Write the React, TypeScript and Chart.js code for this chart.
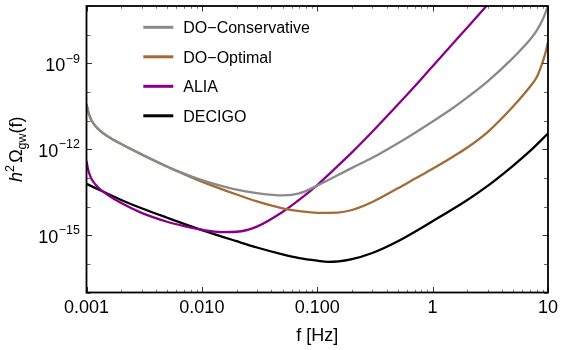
import React, { useEffect, useRef } from "react";
import { Chart, registerables } from "chart.js";

Chart.register(...registerables);

const FONT = "'Liberation Sans', Arial, Helvetica, sans-serif";

// ---------- data (log10 of h^2 Omega_gw) ----------
const seriesLabels = ["DO\u2212Conservative", "DO\u2212Optimal", "ALIA", "DECIGO"];
const seriesColors = ["#8a8a8a", "#a36b36", "#880088", "#000000"];

const freqDO = [0.001, 0.00103, 0.00106, 0.0011, 0.0012, 0.0013, 0.0015, 0.002, 0.003, 0.005, 0.007, 0.01, 0.015, 0.02, 0.03, 0.05, 0.07, 0.1, 0.15, 0.2, 0.3, 0.5, 0.7, 1, 1.5, 2, 3, 5, 7, 8, 9, 9.5, 10];
const logDOConservative = [-10.42, -10.66, -10.82, -10.98, -11.2, -11.34, -11.53, -11.82, -12.18, -12.6, -12.85, -13.08, -13.29, -13.41, -13.53, -13.61, -13.54, -13.27, -12.91, -12.65, -12.3, -11.79, -11.43, -11.03, -10.56, -10.19, -9.63, -8.8, -8.17, -7.85, -7.47, -7.24, -6.98];
const logDOOptimal = [-10.42, -10.66, -10.82, -10.98, -11.2, -11.34, -11.53, -11.82, -12.18, -12.61, -12.87, -13.13, -13.4, -13.58, -13.82, -14.06, -14.16, -14.22, -14.21, -14.12, -13.84, -13.36, -13.03, -12.68, -12.26, -11.94, -11.4, -10.5, -9.81, -9.48, -8.95, -8.64, -8.26];

const freqALIA = [0.001, 0.00103, 0.00106, 0.0011, 0.0012, 0.0013, 0.0015, 0.002, 0.003, 0.005, 0.007, 0.01, 0.015, 0.02, 0.03, 0.05, 0.07, 0.1, 0.15, 0.2, 0.3, 0.5, 0.7, 1, 1.5, 2, 3];
const logALIA = [-12.41, -12.69, -12.86, -13.02, -13.24, -13.38, -13.57, -13.88, -14.22, -14.53, -14.68, -14.81, -14.89, -14.88, -14.7, -14.19, -13.76, -13.25, -12.59, -12.11, -11.39, -10.44, -9.8, -9.1, -8.31, -7.75, -6.95];

const freqDECIGO = [0.001, 0.002, 0.003, 0.005, 0.01, 0.02, 0.03, 0.05, 0.07, 0.1, 0.124, 0.196, 0.3, 0.5, 1, 2, 3, 5, 7, 10];
const logDECIGO = [-13.21, -13.77, -14.06, -14.39, -14.82, -15.21, -15.43, -15.67, -15.8, -15.89, -15.93, -15.84, -15.62, -15.21, -14.51, -13.77, -13.28, -12.57, -12.06, -11.45];

const xTickValues = [0.001, 0.01, 0.1, 1, 10];
const xTickLabels = ["0.001", "0.010", "0.100", "1", "10"];
const yTickExponents = [-15, -12, -9];
const X_MIN = 0.001;
const X_MAX = 10;
const Y_MIN_EXP = -17;
const Y_MAX_EXP = -7;

const decorPlugin = {
  id: "decor",
  afterDatasetsDraw(chart: any) {
    const { ctx, chartArea: a, scales } = chart;
    const xs = scales.x;
    const ys = scales.y;
    ctx.save();

    // inward tick marks
    ctx.lineWidth = 1;
    for (let d = -3; d <= 1; d++) {
      for (let m = 1; m <= 9; m++) {
        const v = m * Math.pow(10, d);
        if (v > X_MAX * 1.0001) break;
        const x = Math.round(xs.getPixelForValue(v)) + 0.5;
        const len = m === 1 ? 5.5 : 2.8;
        ctx.strokeStyle = m === 1 ? "#333" : "#777";
        ctx.beginPath();
        ctx.moveTo(x, a.bottom);
        ctx.lineTo(x, a.bottom - len);
        ctx.moveTo(x, a.top);
        ctx.lineTo(x, a.top + len);
        ctx.stroke();
      }
    }
    for (let e = Y_MIN_EXP; e <= Y_MAX_EXP; e++) {
      const y = Math.round(ys.getPixelForValue(Math.pow(10, e))) + 0.5;
      const labeled = yTickExponents.indexOf(e) >= 0;
      const len = labeled ? 5.5 : 4;
      ctx.strokeStyle = labeled ? "#333" : "#666";
      ctx.beginPath();
      ctx.moveTo(a.left, y);
      ctx.lineTo(a.left + len, y);
      ctx.moveTo(a.right, y);
      ctx.lineTo(a.right - len, y);
      ctx.stroke();
    }

    // frame
    ctx.strokeStyle = "#000";
    ctx.lineWidth = 1.8;
    ctx.strokeRect(a.left, a.top, a.right - a.left, a.bottom - a.top);

    // y tick labels 10^n
    ctx.fillStyle = "#000";
    ctx.textBaseline = "alphabetic";
    ctx.textAlign = "left";
    for (const e of yTickExponents) {
      const y = ys.getPixelForValue(Math.pow(10, e));
      const expText = "\u2212" + Math.abs(e);
      ctx.font = `18px ${FONT}`;
      const w10 = ctx.measureText("10").width;
      ctx.font = `12.5px ${FONT}`;
      const we = ctx.measureText(expText).width;
      const right = 80;
      const ex = right - we;
      const bx = ex - 0.5 - w10;
      ctx.font = `18px ${FONT}`;
      ctx.fillText("10", bx, y + 7.4);
      ctx.font = `12.5px ${FONT}`;
      ctx.fillText(expText, ex, y - 0.8);
    }

    // y axis title: h^2 Omega_gw(f)
    const parts = [
      { t: "h", f: `italic 18px ${FONT}`, dy: 0 },
      { t: "2", f: `12.5px ${FONT}`, dy: -7.5 },
      { t: " ", f: `8px ${FONT}`, dy: 0 },
      { t: "\u03A9", f: `18px ${FONT}`, dy: 0 },
      { t: "gw", f: `12.5px ${FONT}`, dy: 4.5 },
      { t: "(f)", f: `18px ${FONT}`, dy: 0 },
    ];
    let total = 0;
    const widths: number[] = [];
    for (const p of parts) {
      ctx.font = p.f;
      const w = ctx.measureText(p.t).width;
      widths.push(w);
      total += w;
    }
    ctx.save();
    ctx.translate(21.7, (a.top + a.bottom) / 2);
    ctx.rotate(-Math.PI / 2);
    let cx = -total / 2;
    parts.forEach((p, i) => {
      ctx.font = p.f;
      ctx.fillText(p.t, cx, p.dy);
      cx += widths[i];
    });
    ctx.restore();

    // legend
    const ds = chart.data.datasets;
    for (let i = 0; i < ds.length; i++) {
      const ry = 27.3 + 29.5 * i;
      ctx.strokeStyle = ds[i].borderColor;
      ctx.lineWidth = 3;
      ctx.beginPath();
      ctx.moveTo(143.3, ry);
      ctx.lineTo(173.3, ry);
      ctx.stroke();
      ctx.font = `16px ${FONT}`;
      ctx.fillStyle = "#000";
      ctx.fillText(ds[i].label, 183.3, ry + 5.7);
    }

    ctx.restore();
  },
};

export default function App() {
  const ref = useRef<HTMLCanvasElement>(null);

  useEffect(() => {
    const canvas = ref.current;
    if (!canvas) return;
    const mk = (f: number[], l: number[]) => f.map((x, i) => ({ x, y: Math.pow(10, l[i]) }));
    const sources = [
      [freqDO, logDOConservative],
      [freqDO, logDOOptimal],
      [freqALIA, logALIA],
      [freqDECIGO, logDECIGO],
    ];
    const datasets = sources.map((s, i) => ({
      label: seriesLabels[i],
      data: mk(s[0], s[1]),
      borderColor: seriesColors[i],
      backgroundColor: seriesColors[i],
      borderWidth: 2.3,
      pointRadius: 0,
      fill: false,
      cubicInterpolationMode: "monotone" as const,
    }));

    const chart = new Chart(canvas, {
      type: "line",
      data: { datasets },
      options: {
        animation: false,
        responsive: false,
        devicePixelRatio: 1,
        layout: { padding: { left: 0, top: 6, right: 11.3, bottom: 0 } },
        plugins: {
          legend: { display: false },
          tooltip: { enabled: false },
          title: { display: false },
        },
        scales: {
          x: {
            type: "logarithmic",
            min: X_MIN,
            max: X_MAX,
            grid: { display: false, drawTicks: false },
            border: { display: false },
            afterBuildTicks: (s: any) => {
              s.ticks = xTickValues.map((v) => ({ value: v }));
            },
            ticks: {
              callback: (_v: any, i: number) => xTickLabels[i],
              font: { family: FONT, size: 18 },
              color: "#000",
              padding: 5,
              maxRotation: 0,
              autoSkip: false,
            },
            title: {
              display: true,
              text: "f [Hz]",
              font: { family: FONT, size: 18 },
              color: "#000",
              padding: { top: 0, bottom: 3 },
            },
            afterFit: (s: any) => {
              s.height = 57.5;
            },
          },
          y: {
            type: "logarithmic",
            min: Math.pow(10, Y_MIN_EXP),
            max: Math.pow(10, Y_MAX_EXP),
            grid: { display: false, drawTicks: false },
            border: { display: false },
            ticks: { display: false },
            afterBuildTicks: (s: any) => {
              s.ticks = yTickExponents.map((e) => ({ value: Math.pow(10, e) }));
            },
            afterFit: (s: any) => {
              s.width = 86.5;
            },
          },
        },
      } as any,
      plugins: [decorPlugin],
    });
    return () => chart.destroy();
  }, []);

  return (
    <div style={{ position: "fixed", left: 0, top: 0, width: 563, height: 350, background: "#fff" }}>
      <canvas ref={ref} width={563} height={350} style={{ display: "block" }} />
    </div>
  );
}
